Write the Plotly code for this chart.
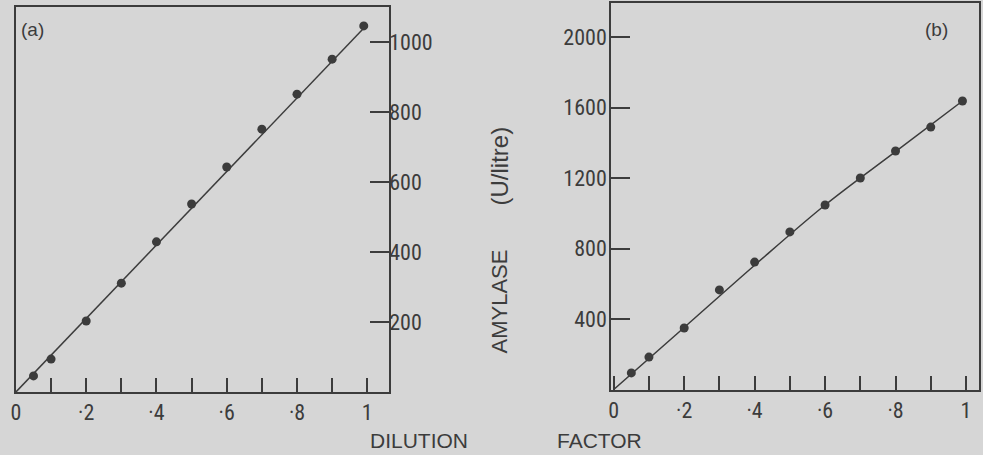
import plotly.graph_objects as go

# ---- data ----
dilution_a = [0.05, 0.1, 0.2, 0.3, 0.4, 0.5, 0.6, 0.7, 0.8, 0.9, 0.99]
amylase_a = [46, 94, 203, 311, 429, 537, 643, 751, 851, 951, 1046]
fit_a_x = [0, 1.0]
fit_a_y = [0, 1050]

dilution_b = [0.05, 0.1, 0.2, 0.3, 0.4, 0.5, 0.6, 0.7, 0.8, 0.9, 0.99]
amylase_b = [94, 184, 349, 565, 723, 894, 1047, 1200, 1353, 1489, 1637]
fit_b_x = [0, 0.2, 0.4, 0.6, 0.8, 0.99]
fit_b_y = [0, 352, 705, 1047, 1350, 1637]

x_tickvals = [0, 0.2, 0.4, 0.6, 0.8, 1.0]
x_ticktext = ["0", "·2", "·4", "·6", "·8", "1"]
x_minor = [0.1, 0.3, 0.5, 0.7, 0.9]
ya_tickvals = [200, 400, 600, 800, 1000]
yb_tickvals = [400, 800, 1200, 1600, 2000]

INK = "#3c3c3c"
BG = "#d6d6d6"
FONT = "Liberation Sans Narrow, Roboto Condensed, DejaVu Sans Condensed, Liberation Sans, sans-serif"
TFONT = "Liberation Sans, Arial, sans-serif"
W, H = 983, 455

fig = go.Figure()
fig.add_trace(go.Scatter(x=fit_a_x, y=fit_a_y, mode="lines",
                         line=dict(color=INK, width=1.5), xaxis="x", yaxis="y", hoverinfo="skip"))
fig.add_trace(go.Scatter(x=dilution_a, y=amylase_a, mode="markers",
                         marker=dict(color=INK, size=9), xaxis="x", yaxis="y"))
fig.add_trace(go.Scatter(x=fit_b_x, y=fit_b_y, mode="lines", line_shape="spline",
                         line=dict(color=INK, width=1.5), xaxis="x2", yaxis="y2", hoverinfo="skip"))
fig.add_trace(go.Scatter(x=dilution_b, y=amylase_b, mode="markers",
                         marker=dict(color=INK, size=9), xaxis="x2", yaxis="y2"))

def xax(domain, rng, anchor):
    return dict(domain=domain, range=rng, anchor=anchor, showgrid=False, zeroline=False,
                showline=True, linecolor=INK, linewidth=1.5, mirror=True,
                tickvals=x_tickvals, ticktext=x_ticktext, ticks="inside", ticklen=14,
                tickwidth=1.5, tickcolor=INK,
                minor=dict(tickvals=x_minor, ticks="inside", ticklen=14, tickwidth=1.5, tickcolor=INK),
                tickfont=dict(family=FONT, size=22, color=INK), fixedrange=True)

def yax(domain, rng, anchor, side, vals, standoff):
    return dict(domain=domain, range=rng, anchor=anchor, side=side, showgrid=False, zeroline=False,
                showline=True, linecolor=INK, linewidth=1.5, mirror=True,
                tickvals=vals, ticks="inside", ticklen=19, tickwidth=1.5, tickcolor=INK,
                ticklabelstandoff=standoff,
                tickfont=dict(family=FONT, size=22, color=INK), fixedrange=True)

fig.update_layout(
    width=W, height=H, margin=dict(l=0, r=0, t=0, b=0),
    paper_bgcolor=BG, plot_bgcolor=BG, showlegend=False,
    xaxis=xax([11 / W, 386 / W], [0, 1.062], "y"),
    yaxis=yax([1 - 392 / H, 1 - 7 / H], [0, 1100], "x", "right", ya_tickvals, -6),
    xaxis2=xax([609 / W, 979 / W], [-0.008, 1.037], "y2"),
    yaxis2=yax([1 - 389.5 / H, 1 - 3 / H], [0, 2193], "x2", "left", yb_tickvals, -2),
)

def txt(s, x, y, size=22, angle=0, family=TFONT):
    fig.add_annotation(text=s, x=x / W, y=1 - y / H, xref="paper", yref="paper",
                       showarrow=False, textangle=angle, xanchor="center", yanchor="middle",
                       font=dict(family=family, size=size, color=INK))

txt("(a)", 28, 30, size=19)
txt("(b)", 936, 30, size=19)
txt("AMYLASE", 497, 301, size=22, angle=-90)
txt("(U/litre)", 497, 166, size=24, angle=-90)
txt("DILUTION", 416, 440, size=21)
txt("FACTOR", 598, 440, size=21)

fig.write_html("out.html")
